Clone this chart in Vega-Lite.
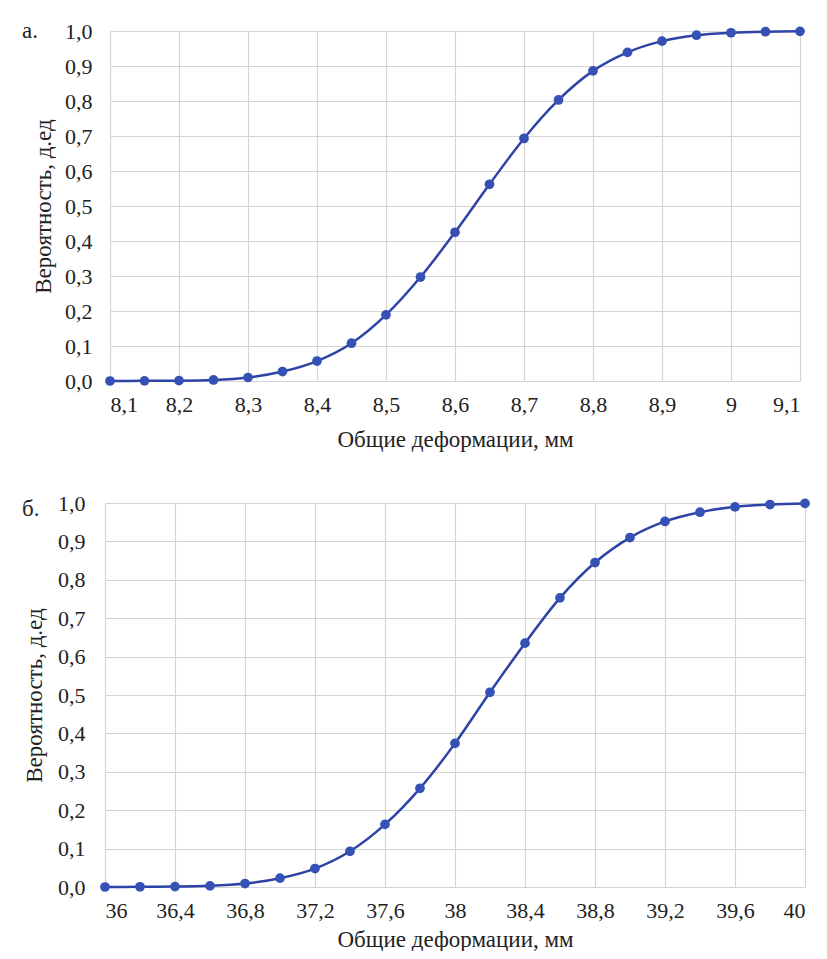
{
  "$schema": "https://vega.github.io/schema/vega-lite/v6.json",
  "background": "white",
  "padding": {"left": 22, "top": 20, "right": 10, "bottom": 0},
  "bounds": "flush",
  "center": true,
  "spacing": 122,
  "datasets": {
    "a": [
      {"x": 8.1, "p": 0.0}, {"x": 8.15, "p": 0.0005}, {"x": 8.2, "p": 0.001}, {"x": 8.25, "p": 0.003},
      {"x": 8.3, "p": 0.01}, {"x": 8.35, "p": 0.027}, {"x": 8.4, "p": 0.057}, {"x": 8.45, "p": 0.108},
      {"x": 8.5, "p": 0.189}, {"x": 8.55, "p": 0.297}, {"x": 8.6, "p": 0.425}, {"x": 8.65, "p": 0.562},
      {"x": 8.7, "p": 0.693}, {"x": 8.75, "p": 0.803}, {"x": 8.8, "p": 0.886}, {"x": 8.85, "p": 0.939},
      {"x": 8.9, "p": 0.971}, {"x": 8.95, "p": 0.988}, {"x": 9.0, "p": 0.995}, {"x": 9.05, "p": 0.998},
      {"x": 9.1, "p": 0.999}
    ],
    "b": [
      {"x": 36.0, "p": 0.0}, {"x": 36.2, "p": 0.0005}, {"x": 36.4, "p": 0.001}, {"x": 36.6, "p": 0.003},
      {"x": 36.8, "p": 0.009}, {"x": 37.0, "p": 0.023}, {"x": 37.2, "p": 0.048}, {"x": 37.4, "p": 0.093},
      {"x": 37.6, "p": 0.163}, {"x": 37.8, "p": 0.257}, {"x": 38.0, "p": 0.374}, {"x": 38.2, "p": 0.507},
      {"x": 38.4, "p": 0.635}, {"x": 38.6, "p": 0.753}, {"x": 38.8, "p": 0.845}, {"x": 39.0, "p": 0.91},
      {"x": 39.2, "p": 0.952}, {"x": 39.4, "p": 0.976}, {"x": 39.6, "p": 0.99}, {"x": 39.8, "p": 0.996},
      {"x": 40.0, "p": 0.999}
    ]
  },
  "config": {
    "font": "Liberation Serif, Times New Roman, serif",
    "view": {"stroke": null},
    "axis": {
      "labelFont": "Liberation Serif, Times New Roman, serif",
      "titleFont": "Liberation Serif, Times New Roman, serif",
      "labelColor": "#222222",
      "titleColor": "#222222",
      "labelFontSize": 22,
      "titleFontSize": 23,
      "titleFontWeight": "normal",
      "gridColor": "#d4d4d4",
      "gridWidth": 1.2,
      "ticks": false,
      "domain": false
    }
  },
  "vconcat": [
    {
      "width": 690,
      "height": 350,
      "encoding": {
        "x": {"field": "x", "type": "quantitative",
          "scale": {"domain": [8.1, 9.1], "nice": false, "zero": false},
          "axis": {"values": [8.1, 8.2, 8.3, 8.4, 8.5, 8.6, 8.7, 8.8, 8.9, 9.0, 9.1], "labelExpr": "replace(format(datum.value, '.2~f'), '.', ',')", "title": "Общие деформации, мм", "labelPadding": 13, "titlePadding": 13}},
        "y": {"field": "p", "type": "quantitative",
          "scale": {"domain": [0, 1], "nice": false},
          "axis": {"values": [0, 0.1, 0.2, 0.3, 0.4, 0.5, 0.6, 0.7, 0.8, 0.9, 1.0], "labelExpr": "replace(format(datum.value, '.1f'), '.', ',')", "title": "Вероятность, д.ед", "labelPadding": 18, "titlePadding": 9}}
      },
      "layer": [
        {"data": {"name": "a"}, "mark": {"type": "line", "interpolate": "monotone", "color": "#2e43a6", "strokeWidth": 2.5}},
        {"data": {"name": "a"}, "mark": {"type": "point", "filled": true, "size": 95, "color": "#3551b5", "opacity": 1}},
        {"data": {"values": [{"lbl": "а.", "x": 8.1, "p": 1.0}]},
          "mark": {"type": "text", "align": "left", "baseline": "middle", "dx": -88, "dy": 0, "fontSize": 23, "color": "#222222", "font": "Liberation Serif, Times New Roman, serif"},
          "encoding": {"text": {"field": "lbl", "type": "nominal"}}}
      ]
    },
    {
      "width": 700,
      "height": 384,
      "encoding": {
        "x": {"field": "x", "type": "quantitative",
          "scale": {"domain": [36, 40], "nice": false, "zero": false},
          "axis": {"values": [36, 36.4, 36.8, 37.2, 37.6, 38, 38.4, 38.8, 39.2, 39.6, 40], "labelExpr": "replace(format(datum.value, '.1~f'), '.', ',')", "title": "Общие деформации, мм", "labelPadding": 13, "titlePadding": 7}},
        "y": {"field": "p", "type": "quantitative",
          "scale": {"domain": [0, 1], "nice": false},
          "axis": {"values": [0, 0.1, 0.2, 0.3, 0.4, 0.5, 0.6, 0.7, 0.8, 0.9, 1.0], "labelExpr": "replace(format(datum.value, '.1f'), '.', ',')", "title": "Вероятность, д.ед", "labelPadding": 20, "titlePadding": 11}}
      },
      "layer": [
        {"data": {"name": "b"}, "mark": {"type": "line", "interpolate": "monotone", "color": "#2e43a6", "strokeWidth": 2.5}},
        {"data": {"name": "b"}, "mark": {"type": "point", "filled": true, "size": 95, "color": "#3551b5", "opacity": 1}},
        {"data": {"values": [{"lbl": "б.", "x": 36, "p": 1.0}]},
          "mark": {"type": "text", "align": "left", "baseline": "middle", "dx": -83, "dy": 6, "fontSize": 23, "color": "#222222", "font": "Liberation Serif, Times New Roman, serif"},
          "encoding": {"text": {"field": "lbl", "type": "nominal"}}}
      ]
    }
  ]
}
